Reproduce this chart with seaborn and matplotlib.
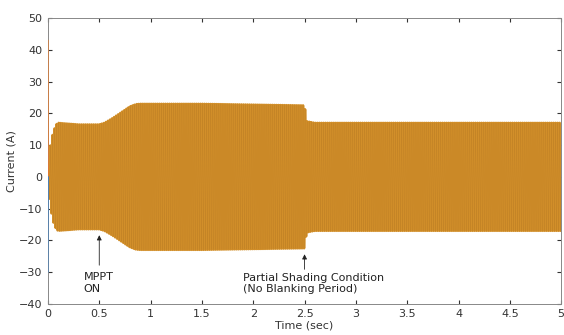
import numpy as np
import pandas as pd
import matplotlib
matplotlib.use("Agg")
import matplotlib.pyplot as plt
import seaborn as sns

# envelope of the phase current
env_time = [0, 0.02, 0.05, 0.08, 0.1, 0.3, 0.5, 0.55, 0.62, 0.8, 0.86, 0.9, 1.5, 2.5, 2.52, 2.6, 5.0]
env_amp = [0, 9, 14, 16.5, 17, 16.5, 16.5, 17.0, 18.3, 22.2, 22.9, 23, 23, 22.5, 17.5, 17, 17]
grid_freq = 50  # Hz
wave_color = "#D28F2A"
edge_color = "#B87A22"

# start-up spikes
spike_time = [0.0, 0.002, 0.004]
spike_red = [43, 6, 0]
spike_blue = [-30, -4, 0]

xticks = np.arange(0, 5.01, 0.5)
yticks = np.arange(-40, 51, 10)

t = np.linspace(0, 5, 40001)
amp = np.interp(t, env_time, env_amp)
df = pd.DataFrame({"t": t, "i": amp * np.sin(2 * np.pi * grid_freq * t)})

sns.set_style("ticks")
plt.rcParams["font.family"] = ["DejaVu Sans"]
fig = plt.figure(figsize=(5.64, 3.35), dpi=100)
ax = fig.add_axes([0.085, 0.093, 0.91, 0.853])

sns.lineplot(data=df, x="t", y="i", color=wave_color, lw=1.8, estimator=None, sort=False, ax=ax)
sns.lineplot(data=df, x="t", y="i", color=edge_color, lw=0.3, alpha=0.6, estimator=None, sort=False, ax=ax)
sns.lineplot(x=spike_time, y=spike_red, color="#E07A30", lw=1.0, estimator=None, ax=ax, zorder=3)
sns.lineplot(x=spike_time, y=spike_blue, color="#4A7FB5", lw=1.0, estimator=None, ax=ax, zorder=3)

ax.set_xlim(0, 5)
ax.set_ylim(-40, 50)
ax.set_xticks(xticks)
ax.set_xticklabels(["0", "0.5", "1", "1.5", "2", "2.5", "3", "3.5", "4", "4.5", "5"])
ax.set_yticks(yticks)
ax.set_xlabel("Time (sec)", fontsize=8, color="#333333", labelpad=1)
ax.set_ylabel("Current (A)", fontsize=8, color="#333333", labelpad=2)
ax.tick_params(direction="in", length=3, labelsize=8, colors="#333333", top=True, right=True, pad=4)
for s in ax.spines.values():
    s.set_visible(True)
    s.set_color("#888888")
    s.set_linewidth(0.7)

ax.annotate("", xy=(0.5, -17.5), xytext=(0.5, -28.7),
            arrowprops=dict(arrowstyle="-|>", color="#222222", lw=0.6, mutation_scale=7))
ax.text(0.35, -30, "MPPT\nON", fontsize=8, va="top", ha="left", color="#222222", linespacing=1.2)
ax.annotate("", xy=(2.5, -23.5), xytext=(2.5, -30),
            arrowprops=dict(arrowstyle="-|>", color="#222222", lw=0.6, mutation_scale=7))
ax.text(1.9, -30.2, "Partial Shading Condition\n(No Blanking Period)", fontsize=8, va="top", ha="left",
        color="#222222", linespacing=1.2)

fig.savefig("out.png", dpi=100)
